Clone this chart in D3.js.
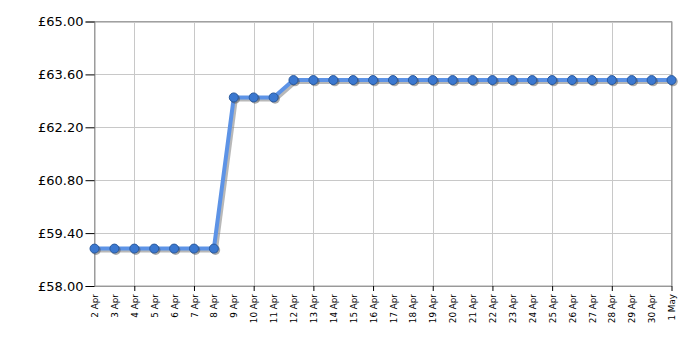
<!DOCTYPE html>
<html><head><meta charset="utf-8">
<script src="https://cdn.jsdelivr.net/npm/d3@7"></script>
<style>body{margin:0;background:#fff}svg{display:block}</style>
</head><body>
<svg id="c" width="700" height="350"></svg>
<script>
const categories = ["2 Apr","3 Apr","4 Apr","5 Apr","6 Apr","7 Apr","8 Apr","9 Apr","10 Apr","11 Apr","12 Apr","13 Apr","14 Apr","15 Apr","16 Apr","17 Apr","18 Apr","19 Apr","20 Apr","21 Apr","22 Apr","23 Apr","24 Apr","25 Apr","26 Apr","27 Apr","28 Apr","29 Apr","30 Apr","1 May"];
const prices = [58.99,58.99,58.99,58.99,58.99,58.99,58.99,62.99,62.99,62.99,63.45,63.45,63.45,63.45,63.45,63.45,63.45,63.45,63.45,63.45,63.45,63.45,63.45,63.45,63.45,63.45,63.45,63.45,63.45,63.45];
const yTicks = [58.00,59.40,60.80,62.20,63.60,65.00];

const svg = d3.select("#c");
const L = 94.5, R = 671.5, T = 21.5, B = 286;
const x = d3.scalePoint().domain(categories).range([L, R]);
const y = d3.scaleLinear().domain([58, 65]).range([B, T]);
const font = "Verdana, 'DejaVu Sans', sans-serif";

const majorCats = categories.filter((d,i)=> i % 3 === 2);

// gridlines
const g = svg.append("g");
g.selectAll("line.h").data(yTicks).join("line")
  .attr("x1", L).attr("x2", R).attr("y1", d=>Math.round(y(d))+0.5).attr("y2", d=>Math.round(y(d))+0.5)
  .attr("stroke", "#c8c8c8").attr("stroke-width", 1);
g.selectAll("line.v").data(majorCats).join("line")
  .attr("x1", d=>Math.round(x(d))+0.5).attr("x2", d=>Math.round(x(d))+0.5).attr("y1", T).attr("y2", B)
  .attr("stroke", "#c8c8c8").attr("stroke-width", 1);
// frame
svg.append("rect").attr("x", L).attr("y", T).attr("width", R-L).attr("height", B-T)
  .attr("fill","none").attr("stroke","#a0a0a0");

// y axis
const ya = svg.append("g").attr("transform", `translate(${L},0)`)
  .call(d3.axisLeft(y).tickValues(yTicks).tickSize(9).tickPadding(2).tickFormat(d=>"£"+d.toFixed(2)));
ya.select(".domain").attr("stroke","#999");
ya.selectAll(".tick line").attr("stroke","#000");
ya.selectAll("text").attr("font-family", font).attr("font-size", "13px").attr("fill","#000");

// x axis
const xa = svg.append("g").attr("transform", `translate(0,${B})`)
  .call(d3.axisBottom(x).tickSize(0).tickPadding(0));
xa.select(".domain").attr("stroke","#999");
xa.selectAll(".tick line").remove();
xa.selectAll(".tick").filter(d=>majorCats.includes(d)).append("line")
  .attr("y1",0).attr("y2",5).attr("stroke","#000");
xa.selectAll("text")
  .attr("font-family", font).attr("font-size","8.8px").attr("fill","#000")
  .attr("text-anchor","end").attr("dy","0.35em")
  .attr("transform","translate(0,8) rotate(-90)").attr("x",0).attr("y",0);

// line with shadow
const line = d3.line().x((d,i)=>x(categories[i])).y(d=>y(d));
svg.append("path").datum(prices).attr("d", line)
  .attr("transform","translate(2,2)").attr("fill","none").attr("stroke","#888").attr("stroke-opacity",0.6).attr("stroke-width",4);
svg.append("path").datum(prices).attr("d", line)
  .attr("fill","none").attr("stroke","#5d93e6").attr("stroke-width",4).attr("stroke-linejoin","round");

// markers
svg.selectAll("circle.s").data(prices).join("circle")
  .attr("cx",(d,i)=>x(categories[i])+1.5).attr("cy",d=>y(d)+1.5).attr("r",4.8)
  .attr("fill","#444").attr("fill-opacity",0.45);
svg.selectAll("circle.m").data(prices).join("circle")
  .attr("cx",(d,i)=>x(categories[i])).attr("cy",d=>y(d)).attr("r",4.5)
  .attr("fill","#3b78d0").attr("stroke","#2a5a9e").attr("stroke-width",1);
</script>
</body></html>
